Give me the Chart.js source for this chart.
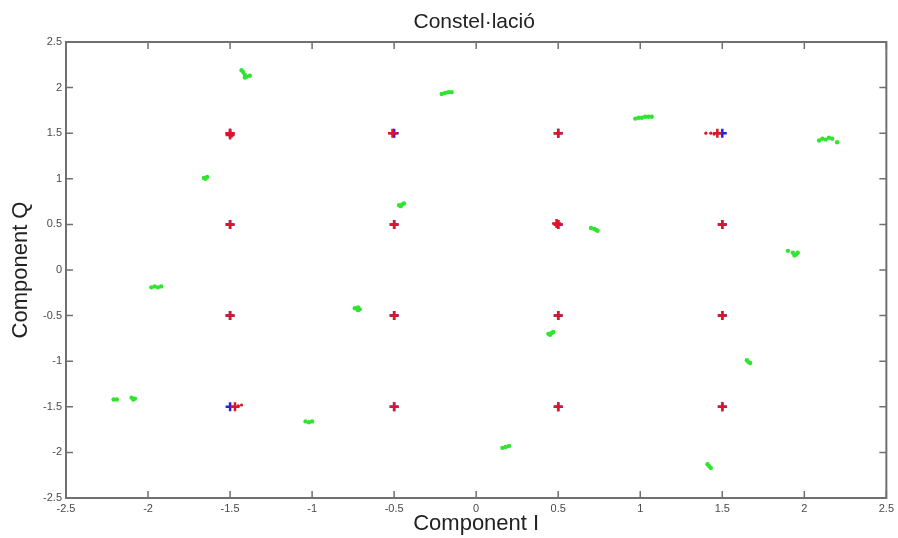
<!DOCTYPE html>
<html>
<head>
<meta charset="utf-8">
<script src="https://cdn.jsdelivr.net/npm/chart.js@4/dist/chart.umd.min.js"></script>
<style>
  html, body { margin: 0; padding: 0; background: #fff; }
  #wrap { width: 898px; height: 538px; }
</style>
</head>
<body>
<div id="wrap"><canvas id="constel" width="898" height="538"></canvas></div>
<script>
// 16-QAM constellation: ideal symbols, equalised symbols and the rotated received ones
const tickValues = [-2.5, -2, -1.5, -1, -0.5, 0, 0.5, 1, 1.5, 2, 2.5];

const idealPoints = [
  [-1.5, 1.5], [-0.5, 1.5], [0.5, 1.5], [1.5, 1.5],
  [-1.5, 0.5], [-0.5, 0.5], [0.5, 0.5], [1.5, 0.5],
  [-1.5, -0.5], [-0.5, -0.5], [0.5, -0.5], [1.5, -0.5],
  [-1.5, -1.5], [-0.5, -1.5], [0.5, -1.5], [1.5, -1.5]
];

const equalisedPlus = [
  [-1.5, 1.5], [-1.5, 1.48], [-0.51, 1.5], [0.5, 1.5], [1.47, 1.5],
  [-1.5, 0.5], [-0.5, 0.5], [0.5, 0.5], [0.49, 0.51], [1.5, 0.5],
  [-1.5, -0.5], [-0.5, -0.5], [0.5, -0.5], [1.5, -0.5],
  [-1.47, -1.5], [-0.5, -1.5], [0.5, -1.5], [1.5, -1.5]
];

const equalisedDots = [
  [1.40, 1.5], [1.43, 1.5], [1.45, 1.49],
  [-1.45, -1.49], [-1.43, -1.48], [-1.49, 1.47]
];

const receivedPoints = [
  [-1.43, 2.19], [-1.42, 2.17], [-1.41, 2.14], [-1.40, 2.12], [-1.38, 2.13], [-1.41, 2.11],
  [-0.21, 1.93], [-0.19, 1.94], [-0.17, 1.95], [-0.15, 1.95],
  [0.97, 1.66], [0.99, 1.67], [1.01, 1.67], [1.03, 1.68], [1.05, 1.68], [1.07, 1.68],
  [2.09, 1.42], [2.11, 1.44], [2.13, 1.43], [2.15, 1.45], [2.17, 1.44], [2.20, 1.40],
  [-1.66, 1.01], [-1.65, 1.00], [-1.64, 1.02],
  [-0.47, 0.71], [-0.45, 0.72], [-0.44, 0.73], [-0.46, 0.70],
  [0.70, 0.46], [0.72, 0.45], [0.74, 0.43], [0.73, 0.44],
  [1.90, 0.21], [1.93, 0.19], [1.95, 0.17], [1.96, 0.19], [1.94, 0.16],
  [-1.98, -0.19], [-1.96, -0.18], [-1.94, -0.19], [-1.92, -0.18],
  [-0.74, -0.42], [-0.72, -0.41], [-0.71, -0.43], [-0.72, -0.44],
  [0.44, -0.70], [0.46, -0.69], [0.47, -0.68], [0.45, -0.71],
  [1.65, -0.99], [1.66, -1.01], [1.67, -1.02],
  [-2.21, -1.42], [-2.19, -1.42], [-2.10, -1.40], [-2.08, -1.41], [-2.09, -1.42],
  [-1.04, -1.66], [-1.02, -1.67], [-1.00, -1.66],
  [0.16, -1.95], [0.18, -1.94], [0.20, -1.93],
  [1.41, -2.13], [1.42, -2.15], [1.43, -2.17]
];

const toXY = arr => arr.map(p => ({ x: p[0], y: p[1] }));

// MATLAB-like box with ticks pointing inwards, plus the title
const matlabFrame = {
  id: 'matlabFrame',
  afterDraw(chart) {
    const { ctx, chartArea: a, scales } = chart;
    const len = 7;
    ctx.save();
    ctx.strokeStyle = '#707070';
    ctx.lineWidth = 1.5;
    ctx.beginPath();
    tickValues.forEach(v => {
      const px = scales.x.getPixelForValue(v);
      ctx.moveTo(px, a.bottom); ctx.lineTo(px, a.bottom - len);
      ctx.moveTo(px, a.top); ctx.lineTo(px, a.top + len);
      const py = scales.y.getPixelForValue(v);
      ctx.moveTo(a.left, py); ctx.lineTo(a.left + len, py);
      ctx.moveTo(a.right, py); ctx.lineTo(a.right - len, py);
    });
    ctx.stroke();
    ctx.lineWidth = 2;
    ctx.strokeRect(a.left, a.top, a.right - a.left, a.bottom - a.top);
    ctx.fillStyle = '#222';
    ctx.font = '21px "Liberation Sans", Arial, sans-serif';
    ctx.textAlign = 'center';
    ctx.textBaseline = 'middle';
    ctx.fillText('Constel\u00b7laci\u00f3', (a.left + a.right) / 2 - 2, 22);
    ctx.restore();
  }
};

const tickFont = { family: '"Liberation Sans", Arial, sans-serif', size: 11 };
const titleFont = { family: '"Liberation Sans", Arial, sans-serif', size: 22 };

new Chart(document.getElementById('constel'), {
  type: 'scatter',
  data: {
    datasets: [
      { label: 'equalised', data: toXY(equalisedPlus), pointStyle: 'cross', pointRadius: 4.5,
        borderColor: '#dd1526', backgroundColor: '#dd1526', pointBorderWidth: 2.5 },
      { label: 'equalised dots', data: toXY(equalisedDots), pointStyle: 'circle', pointRadius: 1.6,
        borderColor: '#dd1526', backgroundColor: '#dd1526', pointBorderWidth: 0 },
      { label: 'ideal', data: toXY(idealPoints), pointStyle: 'cross', pointRadius: 4.5,
        borderColor: '#2a22d8', backgroundColor: '#2a22d8', pointBorderWidth: 2.5 },
      { label: 'received', data: toXY(receivedPoints), pointStyle: 'circle', pointRadius: 2.2,
        borderColor: '#2fe52f', backgroundColor: '#2fe52f', pointBorderWidth: 0 }
    ]
  },
  options: {
    responsive: false,
    animation: false,
    events: [],
    layout: { padding: { top: 42, right: 9, left: 0, bottom: 0 } },
    plugins: { legend: { display: false }, tooltip: { enabled: false } },
    scales: {
      x: {
        type: 'linear', min: -2.5, max: 2.5,
        afterBuildTicks: s => { s.ticks = tickValues.map(v => ({ value: v })); },
        afterFit: s => { s.height = 40; },
        grid: { display: false, drawTicks: false },
        border: { display: false },
        ticks: { color: '#4a4a4a', font: tickFont, padding: 4, maxRotation: 0, autoSkip: false,
          callback: v => String(v) },
        title: { display: true, text: 'Component I', color: '#222', font: titleFont,
          padding: { top: 0, bottom: 1 } }
      },
      y: {
        type: 'linear', min: -2.5, max: 2.5,
        afterBuildTicks: s => { s.ticks = tickValues.map(v => ({ value: v })); },
        afterFit: s => { s.width = 66; },
        grid: { display: false, drawTicks: false },
        border: { display: false },
        ticks: { color: '#4a4a4a', font: tickFont, padding: 4, autoSkip: false,
          callback: v => String(v) },
        title: { display: true, text: 'Component Q', color: '#222', font: titleFont,
          padding: { top: 8, bottom: 0 } }
      }
    }
  },
  plugins: [matlabFrame]
});
</script>
</body>
</html>
